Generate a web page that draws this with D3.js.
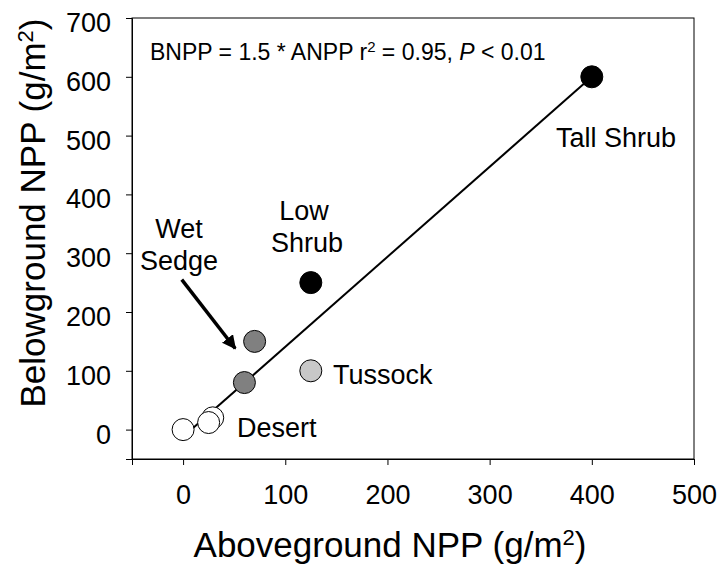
<!DOCTYPE html>
<html>
<head>
<meta charset="utf-8">
<script src="https://cdn.jsdelivr.net/npm/d3@7"></script>
<style>
  body { margin: 0; background: #fff; }
  svg { display: block; font-family: "Liberation Sans", Arial, sans-serif; }
</style>
</head>
<body>
<div id="chart"></div>
<script>
// ANPP vs BNPP by vegetation type
const anpp   = [400, 125, 70, 60, 125, 0, 25, 29];
const bnpp   = [600, 250, 150, 80, 100, 0, 12, 20];
const vegType = ["Tall Shrub", "Low Shrub", "Wet Sedge", "Wet Sedge", "Tussock", "Desert", "Desert", "Desert"];
const vegFill = {"Tall Shrub": "#000", "Low Shrub": "#000", "Wet Sedge": "#808080", "Tussock": "#c8c8c8", "Desert": "#fff"};

// fitted line end points
const fitX = [10, 400];
const fitY = [3, 600];

const xTicks = [0, 100, 200, 300, 400, 500];
const yTicks = [0, 100, 200, 300, 400, 500, 600, 700];

const width = 717, height = 564;
const margin = {top: 18, right: 23, bottom: 105, left: 132};

const svg = d3.select("#chart").append("svg")
    .attr("width", width)
    .attr("height", height);

const x = d3.scaleLinear().domain([-50, 500]).range([margin.left, width - margin.right]);
const y = d3.scaleLinear().domain([-50, 700]).range([height - margin.bottom, margin.top]);

// frame
svg.append("rect")
    .attr("x", x(-50)).attr("y", y(700))
    .attr("width", x(500) - x(-50)).attr("height", y(-50) - y(700))
    .attr("fill", "none").attr("stroke", "#000").attr("stroke-width", 1);

const xAxis = svg.append("g")
    .attr("transform", `translate(0,${y(-50)})`)
    .call(d3.axisBottom(x).tickValues(xTicks).tickSize(6).tickPadding(20));
const yAxis = svg.append("g")
    .attr("transform", `translate(${x(-50)},0)`)
    .call(d3.axisLeft(y).tickValues(yTicks).tickSize(6).tickPadding(15));

[xAxis, yAxis].forEach(a => {
  a.select(".domain").attr("stroke", "#000");
  a.selectAll(".tick line").attr("stroke", "#000");
  a.selectAll(".tick text")
      .attr("fill", "#000")
      .style("font-size", "27px")
      .style("font-family", "Liberation Sans, Arial, sans-serif");
});
xAxis.selectAll(".tick text").attr("dy", "0.71em");
yAxis.selectAll(".tick text").attr("dy", "0.5em");

// axis titles
const xt = svg.append("text")
    .attr("x", 390).attr("y", 557)
    .attr("text-anchor", "middle")
    .style("font-size", "35px");
xt.append("tspan").text("Aboveground NPP (g/m");
xt.append("tspan").attr("dy", -12).style("font-size", "22px").text("2");
xt.append("tspan").attr("dy", 12).text(")");

const yt = svg.append("text")
    .attr("transform", "translate(45,213) rotate(-90)")
    .attr("text-anchor", "middle")
    .style("font-size", "35px");
yt.append("tspan").text("Belowground NPP (g/m");
yt.append("tspan").attr("dy", -12).style("font-size", "22px").text("2");
yt.append("tspan").attr("dy", 12).text(")");

// regression line
svg.append("line")
    .attr("x1", x(fitX[0])).attr("y1", y(fitY[0]))
    .attr("x2", x(fitX[1])).attr("y2", y(fitY[1]))
    .attr("stroke", "#000").attr("stroke-width", 2);

// equation
const eq = svg.append("text")
    .attr("x", 150).attr("y", 60)
    .style("font-size", "23px");
eq.append("tspan").text("BNPP = 1.5 * ANPP r");
eq.append("tspan").attr("dy", -8).style("font-size", "15px").text("2");
eq.append("tspan").attr("dy", 8).text(" = 0.95, ");
eq.append("tspan").style("font-style", "italic").text("P");
eq.append("tspan").text(" < 0.01");

// arrow for Wet Sedge
svg.append("defs").append("marker")
    .attr("id", "head")
    .attr("viewBox", "0 0 10 10")
    .attr("refX", 9).attr("refY", 5)
    .attr("markerWidth", 4).attr("markerHeight", 4)
    .attr("orient", "auto")
  .append("path")
    .attr("d", "M0,0L10,5L0,10z")
    .attr("fill", "#000");

svg.append("line")
    .attr("x1", x(-1.3)).attr("y1", y(255))
    .attr("x2", x(51)).attr("y2", y(138))
    .attr("stroke", "#000").attr("stroke-width", 3.5)
    .attr("marker-end", "url(#head)");

// points
svg.append("g")
  .selectAll("circle")
  .data(d3.range(anpp.length).reverse())
  .join("circle")
    .attr("cx", i => x(anpp[i]))
    .attr("cy", i => y(bnpp[i]))
    .attr("r", 11)
    .attr("fill", i => vegFill[vegType[i]])
    .attr("stroke", "#000")
    .attr("stroke-width", 1);

// labels
const lab = svg.append("g").style("font-size", "27px").attr("fill", "#000");
lab.append("text").attr("x", 616).attr("y", 147).attr("text-anchor", "middle").text("Tall Shrub");
lab.append("text").attr("x", 304).attr("y", 220).attr("text-anchor", "middle").text("Low");
lab.append("text").attr("x", 307).attr("y", 252).attr("text-anchor", "middle").text("Shrub");
lab.append("text").attr("x", 179).attr("y", 238).attr("text-anchor", "middle").text("Wet");
lab.append("text").attr("x", 179).attr("y", 270).attr("text-anchor", "middle").text("Sedge");
lab.append("text").attr("x", 333).attr("y", 384).text("Tussock");
lab.append("text").attr("x", 237).attr("y", 437).text("Desert");
</script>
</body>
</html>
